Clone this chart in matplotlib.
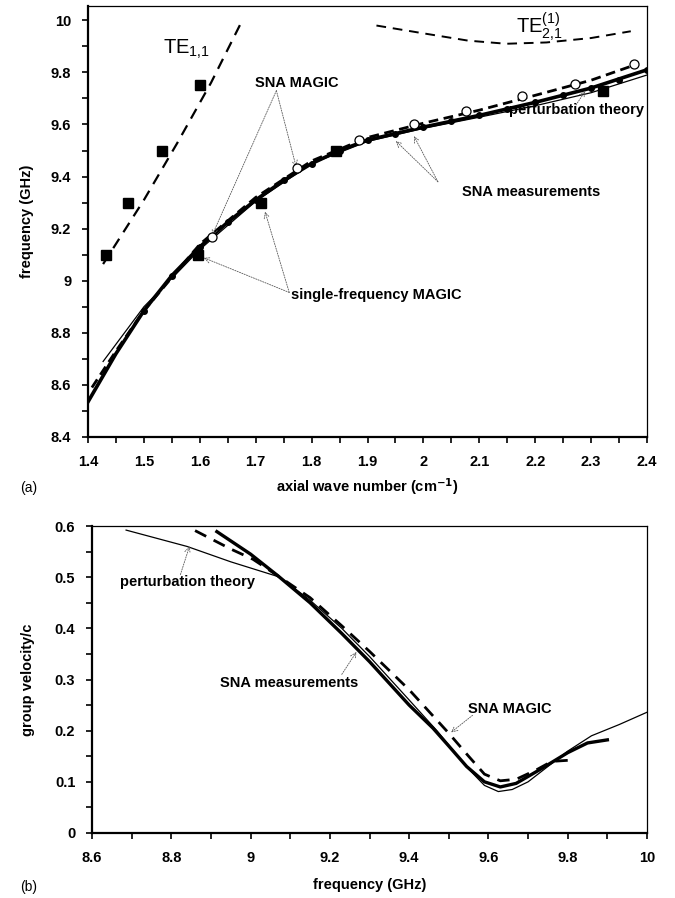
import matplotlib
matplotlib.use("Agg")
import matplotlib.pyplot as plt
from matplotlib.ticker import MultipleLocator

plt.rcParams['font.family'] = ['Liberation Sans', 'DejaVu Sans']
plt.rcParams['font.weight'] = 'bold'
plt.rcParams['mathtext.default'] = 'regular'

# ---- panel (a): dispersion ----
te11_x = [1.427, 1.50, 1.56, 1.62, 1.673]
te11_y = [9.064, 9.31, 9.53, 9.76, 9.987]
te11_sq_x = [1.433, 1.472, 1.532, 1.600]
te11_sq_y = [9.10, 9.30, 9.50, 9.75]

te21_x = [1.916, 2.00, 2.08, 2.148, 2.22, 2.30, 2.371]
te21_y = [9.980, 9.950, 9.922, 9.910, 9.915, 9.932, 9.958]

meas_x = [1.40, 1.45, 1.50, 1.55, 1.60, 1.65, 1.70, 1.75, 1.80, 1.85, 1.90, 1.95, 2.00, 2.10, 2.20, 2.30, 2.40]
meas_y = [8.535, 8.72, 8.885, 9.02, 9.13, 9.225, 9.31, 9.385, 9.45, 9.50, 9.54, 9.565, 9.59, 9.635, 9.685, 9.74, 9.81]
dots_x = [1.50, 1.55, 1.60, 1.65, 1.70, 1.75, 1.80, 1.85, 1.90, 1.95, 2.00, 2.05, 2.10, 2.15, 2.20, 2.25, 2.30, 2.35, 2.40]
dots_y = [8.885, 9.02, 9.13, 9.225, 9.31, 9.385, 9.45, 9.50, 9.54, 9.565, 9.59, 9.612, 9.635, 9.66, 9.685, 9.712, 9.74, 9.772, 9.81]

magic_x = [1.407, 1.45, 1.50, 1.60, 1.70, 1.80, 1.90, 2.00, 2.10, 2.20, 2.30, 2.38]
magic_y = [8.59, 8.73, 8.885, 9.14, 9.32, 9.46, 9.55, 9.605, 9.655, 9.712, 9.77, 9.83]
magic_pts_x = [1.621, 1.773, 1.885, 1.984, 2.076, 2.176, 2.271, 2.377]
magic_pts_y = [9.169, 9.432, 9.541, 9.603, 9.650, 9.708, 9.757, 9.833]

pert_x = [1.427, 1.50, 1.564, 1.60, 1.70, 1.80, 1.90, 2.00, 2.10, 2.20, 2.30, 2.40]
pert_y = [8.69, 8.90, 9.04, 9.12, 9.305, 9.45, 9.535, 9.585, 9.628, 9.672, 9.722, 9.79]

sf_x = [1.597, 1.710, 1.844, 2.321]
sf_y = [9.10, 9.30, 9.50, 9.73]

# ---- panel (b): group velocity ----
gm_x = [8.915, 9.0, 9.07, 9.15, 9.23, 9.3, 9.4, 9.46, 9.5, 9.545, 9.59, 9.63, 9.67, 9.73, 9.8, 9.85, 9.9]
gm_y = [0.589, 0.545, 0.502, 0.45, 0.39, 0.335, 0.25, 0.205, 0.17, 0.13, 0.10, 0.09, 0.097, 0.124, 0.157, 0.176, 0.182]

gp_x = [8.686, 8.84, 8.95, 9.074, 9.15, 9.23, 9.3, 9.4, 9.47, 9.55, 9.59, 9.625, 9.66, 9.7, 9.75, 9.8, 9.86, 9.93, 10.0]
gp_y = [0.592, 0.56, 0.53, 0.50, 0.455, 0.40, 0.345, 0.26, 0.20, 0.125, 0.093, 0.081, 0.085, 0.10, 0.13, 0.16, 0.19, 0.212, 0.236]

gs_x = [8.86, 8.95, 9.006, 9.074, 9.15, 9.23, 9.3, 9.4, 9.5, 9.55, 9.59, 9.63, 9.67, 9.72, 9.76, 9.8]
gs_y = [0.591, 0.555, 0.535, 0.50, 0.46, 0.405, 0.355, 0.28, 0.195, 0.15, 0.115, 0.102, 0.105, 0.123, 0.14, 0.142]

fig = plt.figure(figsize=(6.75, 8.98), dpi=100)
ax1 = fig.add_axes([88/675, 1 - 437/898, 559/675, 431/898])
ax2 = fig.add_axes([92/675, 1 - 833/898, 555/675, 307/898])

arrow = dict(arrowstyle='->', color='0.35', lw=0.6, linestyle=(0, (1.5, 1.5)), shrinkA=0, shrinkB=1)
fs = 10.5


def style_axes(ax):
    for s in ['left', 'bottom']:
        ax.spines[s].set_linewidth(1.6)
    for s in ['top', 'right']:
        ax.spines[s].set_linewidth(0.9)
    ax.tick_params(which='both', direction='out', length=4, width=1.2, labelsize=10.5)
    ax.tick_params(axis='x', pad=9)
    ax.tick_params(axis='y', pad=8)
    ax.tick_params(top=False, right=False)
    for lab in ax.get_xticklabels() + ax.get_yticklabels():
        lab.set_fontweight('bold')


# panel (a)
ax1.plot(te11_x, te11_y, 'k', lw=1.6, dashes=(5, 3.5))
ax1.plot(te11_sq_x, te11_sq_y, 'ks', ms=7.5, ls='none')
ax1.plot(te21_x, te21_y, 'k', lw=1.4, dashes=(5, 3.5))
ax1.plot(pert_x, pert_y, 'k', lw=0.9)
ax1.plot(meas_x, meas_y, 'k', lw=2.6)
ax1.plot(dots_x, dots_y, 'ko', ms=4, ls='none')
ax1.plot(magic_x, magic_y, 'k', lw=2.0, dashes=(3.5, 2))
ax1.plot(magic_pts_x, magic_pts_y, 'o', ms=6.5, mfc='white', mec='k', mew=0.9, ls='none', zorder=5)
ax1.plot(sf_x, sf_y, 'ks', ms=7.5, ls='none', zorder=6)

ax1.set_xlim(1.4, 2.4)
ax1.set_ylim(8.4, 10.055)
ax1.set_yticks([8.4, 8.6, 8.8, 9.0, 9.2, 9.4, 9.6, 9.8, 10.0])
ax1.set_yticklabels(['8.4', '8.6', '8.8', '9', '9.2', '9.4', '9.6', '9.8', '10'])
ax1.set_xticks([1.4, 1.5, 1.6, 1.7, 1.8, 1.9, 2.0, 2.1, 2.2, 2.3, 2.4])
ax1.set_xticklabels(['1.4', '1.5', '1.6', '1.7', '1.8', '1.9', '2', '2.1', '2.2', '2.3', '2.4'])
ax1.xaxis.set_minor_locator(MultipleLocator(0.05))
ax1.yaxis.set_minor_locator(MultipleLocator(0.1))
style_axes(ax1)
ax1.set_ylabel('frequency (GHz)', fontsize=fs, fontweight='bold', labelpad=12)
ax1.set_xlabel(r'axial wave number (cm$^{\mathbf{-1}}$)', fontsize=fs, fontweight='bold', labelpad=5)

ax1.text(1.534, 9.89, r'TE$_{1{,}1}$', fontsize=14.5, fontweight='normal', va='center', ha='left')
ax1.text(2.165, 9.975, r'TE$_{2{,}1}^{(1)}$', fontsize=14.5, fontweight='normal', va='center', ha='left')

ax1.text(1.774, 9.76, 'SNA MAGIC', fontsize=fs, fontweight='bold', ha='center', va='center')
for tx, ty in [(1.621, 9.169), (1.773, 9.432)]:
    ax1.annotate('', xy=(tx, ty), xytext=(1.737, 9.73), arrowprops=arrow)

ax1.text(1.764, 8.945, 'single-frequency MAGIC', fontsize=fs, fontweight='bold', ha='left', va='center')
for tx, ty in [(1.605, 9.09), (1.716, 9.27)]:
    ax1.annotate('', xy=(tx, ty), xytext=(1.76, 8.955), arrowprops=arrow)

ax1.text(2.193, 9.339, 'SNA measurements', fontsize=fs, fontweight='bold', ha='center', va='center')
for tx, ty in [(1.949, 9.54), (1.982, 9.56)]:
    ax1.annotate('', xy=(tx, ty), xytext=(2.026, 9.38), arrowprops=arrow)

ax1.text(2.395, 9.657, 'perturbation theory', fontsize=fs, fontweight='bold', ha='right', va='center')
ax1.annotate('', xy=(2.291, 9.733), xytext=(2.273, 9.675), arrowprops=arrow)

fig.text(20/675, 1 - 488/898, '(a)', fontsize=10, fontweight='normal', ha='left', va='center')

# panel (b)
ax2.plot(gp_x, gp_y, 'k', lw=0.9)
ax2.plot(gm_x, gm_y, 'k', lw=2.4)
ax2.plot(gs_x, gs_y, 'k', lw=2.0, dashes=(4.5, 3))
ax2.set_xlim(8.6, 10.0)
ax2.set_ylim(0, 0.6)
ax2.set_xticks([8.6, 8.8, 9.0, 9.2, 9.4, 9.6, 9.8, 10.0])
ax2.set_xticklabels(['8.6', '8.8', '9', '9.2', '9.4', '9.6', '9.8', '10'])
ax2.set_yticks([0, 0.1, 0.2, 0.3, 0.4, 0.5, 0.6])
ax2.set_yticklabels(['0', '0.1', '0.2', '0.3', '0.4', '0.5', '0.6'])
ax2.xaxis.set_minor_locator(MultipleLocator(0.1))
ax2.yaxis.set_minor_locator(MultipleLocator(0.05))
style_axes(ax2)
ax2.set_ylabel('group velocity/c', fontsize=fs, fontweight='bold', labelpad=14)
ax2.set_xlabel('frequency (GHz)', fontsize=fs, fontweight='bold', labelpad=9)

ax2.text(8.84, 0.49, 'perturbation theory', fontsize=fs, fontweight='bold', ha='center', va='center')
ax2.annotate('', xy=(8.847, 0.563), xytext=(8.823, 0.505), arrowprops=arrow)
ax2.text(9.097, 0.294, 'SNA measurements', fontsize=fs, fontweight='bold', ha='center', va='center')
ax2.annotate('', xy=(9.269, 0.356), xytext=(9.23, 0.31), arrowprops=arrow)
ax2.text(9.654, 0.242, 'SNA MAGIC', fontsize=fs, fontweight='bold', ha='center', va='center')
ax2.annotate('', xy=(9.503, 0.195), xytext=(9.56, 0.23), arrowprops=arrow)

fig.text(20/675, 1 - 887/898, '(b)', fontsize=10, fontweight='normal', ha='left', va='center')

fig.savefig('out.png', dpi=100)
